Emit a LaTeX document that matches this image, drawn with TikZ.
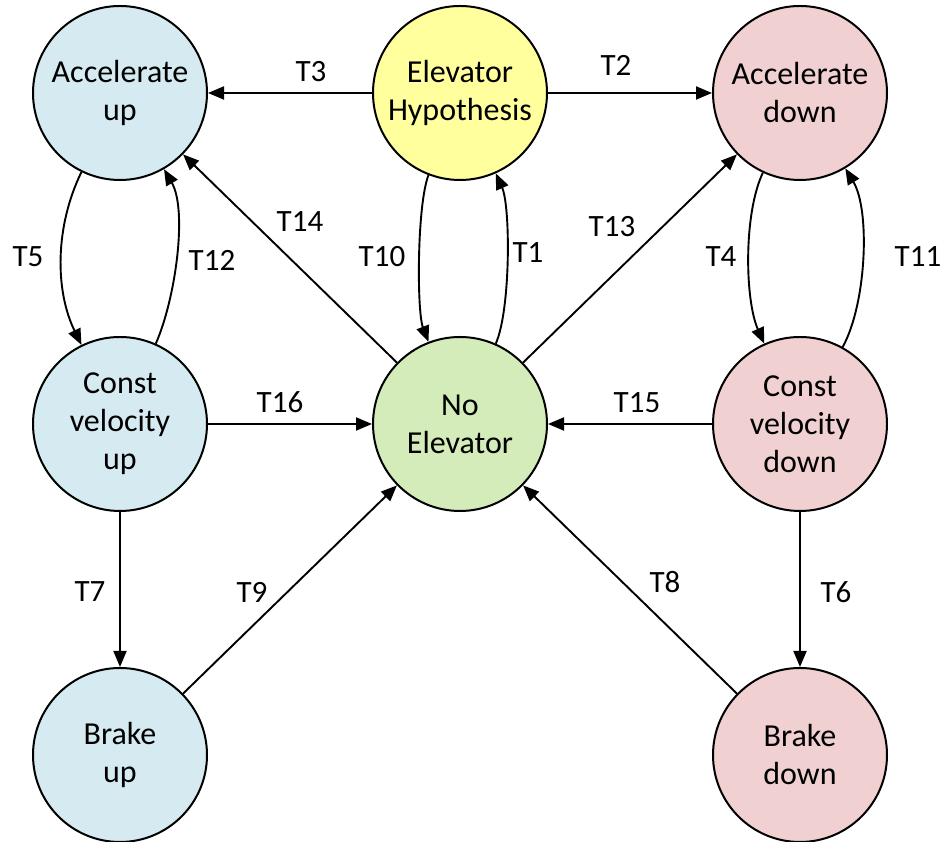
\documentclass[tikz,border=0pt]{standalone}
\usepackage{fontspec}
\setmainfont{Carlito}
\usetikzlibrary{arrows.meta}
\definecolor{upblue}{RGB}{214,234,241}
\definecolor{hypyellow}{RGB}{255,255,158}
\definecolor{nogreen}{RGB}{212,235,186}
\definecolor{downpink}{RGB}{240,208,208}
\begin{document}
\begin{tikzpicture}[x=1pt,y=1pt,
  state/.style={circle, draw=black, line width=2pt, minimum size=174pt,
    inner sep=0pt, align=center, font=\fontsize{32}{38}\selectfont},
  trans/.style={-{Triangle[length=16pt,width=13pt]}, line width=1.9pt},
  lbl/.style={font=\fontsize{31}{36}\selectfont, inner sep=0pt}]
\useasboundingbox (0,0) rectangle (948,842);

% states
\node[state, fill=upblue]     (au) at (120,749) {Accelerate\\up};
\node[state, fill=hypyellow]  (eh) at (460,749) {Elevator\\Hypothesis};
\node[state, fill=downpink]   (ad) at (800,749) {Accelerate\\down};
\node[state, fill=upblue]     (cu) at (120,418) {Const\\velocity\\up};
\node[state, fill=nogreen]    (ne) at (460,418) {No\\Elevator};
\node[state, fill=downpink]   (cd) at (800,418) {Const\\velocity\\down};
\node[state, fill=upblue]     (bu) at (120,87)  {Brake\\up};
\node[state, fill=downpink]   (bd) at (800,87)  {Brake\\down};

% transitions
\draw[trans] (eh) -- (au);
\draw[trans] (eh) -- (ad);
\draw[trans] (eh) to[out=-111,in=111,looseness=0.5] (ne);
\draw[trans] (ne) to[out=66,in=-66,looseness=0.55] (eh);
\draw[trans] (au) to[out=-116,in=116,looseness=0.9] (cu);
\draw[trans] (cu) to[out=66,in=-60,looseness=0.7] (au);
\draw[trans] (ad) to[out=-115,in=114,looseness=0.7] (cd);
\draw[trans] (cd) to[out=61,in=-59,looseness=0.7] (ad);
\draw[trans] (ne) -- (au);
\draw[trans] (ne) -- (ad);
\draw[trans] (cu) -- (ne);
\draw[trans] (cd) -- (ne);
\draw[trans] (cu) -- (bu);
\draw[trans] (cd) -- (bd);
\draw[trans] (bu) -- (ne);
\draw[trans] (bd) -- (ne);

% transition labels
\node[lbl] (l3)  at (311,770) {T3};
\node[lbl] (l2)  at (616,777) {T2};
\node[lbl] (l5)  at (28,585)  {T5};
\node[lbl] (l12) at (212,582) {T12};
\node[lbl] (l14) at (300,620) {T14};
\node[lbl] (l10) at (382,585) {T10};
\node[lbl] (l1)  at (528,589) {T1};
\node[lbl] (l13) at (612,615) {T13};
\node[lbl] (l4)  at (721,585) {T4};
\node[lbl] (l11) at (918,585) {T11};
\node[lbl] (l16) at (280,440) {T16};
\node[lbl] (l15) at (637,439) {T15};
\node[lbl] (l7)  at (90,250)  {T7};
\node[lbl] (l9)  at (252,250) {T9};
\node[lbl] (l8)  at (665,260) {T8};
\node[lbl] (l6)  at (836,250) {T6};
\end{tikzpicture}
\end{document}
